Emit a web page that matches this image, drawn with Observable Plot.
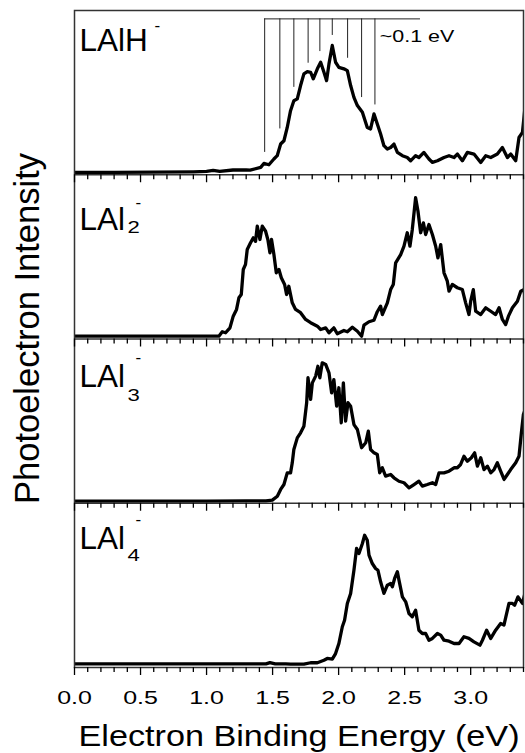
<!DOCTYPE html>
<html><head><meta charset="utf-8">
<script src="https://cdn.jsdelivr.net/npm/d3@7"></script>
<script src="https://cdn.jsdelivr.net/npm/@observablehq/plot@0.6"></script>
<style>html,body{margin:0;padding:0;background:#fff;} #chart svg{display:block}</style>
</head><body><div id="chart"></div>
<script>
// ---- data: [binding energy (eV), relative intensity within panel] ----
const LAlH = [[0.00,0.015],[0.30,0.015],[0.60,0.016],[0.90,0.018],[1.00,0.020],[1.05,0.026],[1.10,0.020],[1.20,0.029],[1.30,0.029],[1.33,0.028],[1.41,0.045],[1.434,0.069],[1.472,0.061],[1.51,0.096],[1.535,0.116],[1.561,0.187],[1.586,0.207],[1.611,0.288],[1.636,0.39],[1.661,0.451],[1.687,0.462],[1.712,0.543],[1.737,0.614],[1.763,0.628],[1.788,0.624],[1.808,0.584],[1.839,0.645],[1.864,0.685],[1.889,0.624],[1.909,0.573],[1.927,0.675],[1.952,0.787],[1.977,0.685],[2.002,0.654],[2.04,0.645],[2.066,0.634],[2.091,0.543],[2.116,0.471],[2.142,0.421],[2.18,0.38],[2.217,0.288],[2.242,0.279],[2.268,0.37],[2.293,0.309],[2.318,0.248],[2.343,0.177],[2.369,0.157],[2.394,0.166],[2.419,0.187],[2.445,0.136],[2.483,0.116],[2.52,0.105],[2.545,0.085],[2.583,0.116],[2.608,0.105],[2.646,0.136],[2.684,0.096],[2.71,0.075],[2.748,0.085],[2.798,0.105],[2.836,0.116],[2.874,0.105],[2.899,0.126],[2.937,0.085],[2.975,0.136],[3.025,0.126],[3.076,0.075],[3.114,0.116],[3.152,0.105],[3.202,0.126],[3.24,0.166],[3.278,0.105],[3.303,0.126],[3.341,0.085],[3.366,0.227],[3.392,0.258],[3.41,0.40]];
const LAl2 = [[0,0.017],[1.093,0.017],[1.119,0.044],[1.144,0.038],[1.177,0.068],[1.202,0.139],[1.227,0.18],[1.245,0.251],[1.263,0.271],[1.278,0.423],[1.295,0.454],[1.308,0.545],[1.333,0.586],[1.354,0.616],[1.371,0.595],[1.384,0.687],[1.404,0.606],[1.422,0.687],[1.447,0.656],[1.464,0.606],[1.48,0.525],[1.492,0.606],[1.51,0.514],[1.528,0.403],[1.548,0.423],[1.566,0.373],[1.591,0.332],[1.606,0.271],[1.623,0.321],[1.649,0.22],[1.674,0.18],[1.712,0.16],[1.75,0.119],[1.788,0.099],[1.839,0.078],[1.864,0.058],[1.902,0.068],[1.927,0.038],[1.964,0.068],[1.99,0.032],[2.04,0.052],[2.066,0.044],[2.104,0.072],[2.142,0.047],[2.174,0.017],[2.192,0.084],[2.23,0.105],[2.267,0.114],[2.293,0.166],[2.318,0.2],[2.331,0.149],[2.369,0.22],[2.394,0.301],[2.414,0.332],[2.432,0.464],[2.47,0.514],[2.495,0.565],[2.52,0.647],[2.54,0.565],[2.558,0.667],[2.583,0.86],[2.601,0.778],[2.621,0.647],[2.642,0.707],[2.659,0.636],[2.684,0.697],[2.71,0.636],[2.735,0.565],[2.752,0.494],[2.773,0.575],[2.798,0.403],[2.823,0.352],[2.836,0.291],[2.861,0.332],[2.899,0.312],[2.937,0.301],[2.962,0.22],[2.987,0.149],[3.0,0.23],[3.02,0.301],[3.038,0.169],[3.076,0.149],[3.114,0.19],[3.152,0.169],[3.189,0.149],[3.215,0.19],[3.24,0.119],[3.265,0.088],[3.286,0.139],[3.316,0.19],[3.354,0.23],[3.379,0.291],[3.404,0.301],[3.42,0.2]];
const LAl3 = [[0,0.013],[1.0,0.013],[1.3,0.014],[1.45,0.014],[1.498,0.019],[1.536,0.043],[1.561,0.084],[1.586,0.114],[1.611,0.185],[1.636,0.185],[1.649,0.246],[1.661,0.327],[1.687,0.398],[1.712,0.429],[1.737,0.469],[1.758,0.612],[1.768,0.764],[1.788,0.632],[1.801,0.733],[1.826,0.774],[1.843,0.834],[1.858,0.764],[1.876,0.855],[1.902,0.845],[1.927,0.794],[1.947,0.672],[1.964,0.753],[1.985,0.591],[2.002,0.703],[2.02,0.49],[2.036,0.733],[2.053,0.5],[2.071,0.612],[2.091,0.591],[2.116,0.479],[2.142,0.449],[2.174,0.338],[2.205,0.368],[2.225,0.439],[2.242,0.327],[2.268,0.307],[2.293,0.297],[2.311,0.185],[2.331,0.216],[2.356,0.165],[2.394,0.175],[2.419,0.155],[2.457,0.134],[2.495,0.125],[2.533,0.094],[2.571,0.114],[2.608,0.134],[2.634,0.104],[2.672,0.114],[2.71,0.125],[2.735,0.114],[2.76,0.185],[2.798,0.185],[2.836,0.195],[2.874,0.216],[2.899,0.216],[2.924,0.236],[2.949,0.286],[2.975,0.256],[3.005,0.277],[3.03,0.307],[3.051,0.226],[3.076,0.277],[3.101,0.205],[3.127,0.226],[3.152,0.185],[3.177,0.205],[3.202,0.246],[3.227,0.195],[3.253,0.145],[3.278,0.175],[3.303,0.205],[3.341,0.246],[3.366,0.286],[3.384,0.429],[3.399,0.54],[3.417,0.581]];
const LAl4 = [[0,0.022],[1.0,0.022],[1.45,0.022],[1.48,0.03],[1.52,0.022],[1.6,0.022],[1.636,0.02],[1.737,0.02],[1.788,0.029],[1.839,0.029],[1.889,0.044],[1.914,0.055],[1.952,0.051],[1.977,0.085],[2.002,0.146],[2.028,0.248],[2.045,0.288],[2.066,0.39],[2.091,0.451],[2.116,0.592],[2.136,0.725],[2.154,0.694],[2.18,0.755],[2.197,0.805],[2.217,0.775],[2.23,0.684],[2.255,0.633],[2.28,0.603],[2.298,0.592],[2.318,0.522],[2.343,0.451],[2.369,0.501],[2.394,0.511],[2.407,0.491],[2.424,0.542],[2.445,0.583],[2.457,0.532],[2.483,0.43],[2.508,0.4],[2.533,0.329],[2.558,0.309],[2.583,0.349],[2.608,0.227],[2.634,0.207],[2.659,0.207],[2.684,0.166],[2.71,0.177],[2.748,0.207],[2.773,0.197],[2.798,0.166],[2.836,0.16],[2.874,0.146],[2.912,0.146],[2.949,0.187],[2.987,0.177],[3.025,0.156],[3.07,0.136],[3.089,0.166],[3.121,0.227],[3.152,0.177],[3.189,0.227],[3.227,0.268],[3.252,0.258],[3.29,0.39],[3.316,0.39],[3.333,0.379],[3.358,0.43],[3.392,0.39],[3.417,0.471]];

// vibrational progression comb (LAlH- panel)
const combX = [1.44, 1.555, 1.661, 1.769, 1.858, 1.952, 2.068, 2.174, 2.275];
const combBottom = [0.136, 0.279, 0.532, 0.679, 0.75, 0.848, 0.709, 0.47, 0.425];
const combTop = 0.949;
const combBar = [1.44, 2.62];
const combLabel = "~0.1 eV";

// panel names (formula pieces)
const labelMain = ["LAlH", "LAl", "LAl", "LAl"];
const labelSub = ["", "2", "3", "4"];
const labelSup = ["-", "-", "-", "-"];
const tickLabels = [0.0, 0.5, 1.0, 1.5, 2.0, 2.5, 3.0];
const xTitle = "Electron Binding Energy (eV)";
const yTitle = "Photoelectron Intensity";

// ---- layout (positions only) ----
const spectra = [LAlH, LAl2, LAl3, LAl4];
const offsets = [3, 2, 1, 0];               // panel k occupies [offset, offset+1]
const mainY = [0.756, 0.661, 0.707, 0.723];
const subY = [0, 0.643, 0.624, 0.649];
const supY = [0.878, 0.795, 0.851, 0.867];
const supX = [0.606, 0.462, 0.462, 0.462];

const rows = spectra.flatMap((s, k) => s.map(([e, v]) => ({k, e, y: offsets[k] + v})));
const minor = d3.range(0, 35).map(i => i / 10).filter((_, i) => i % 5 !== 0);
const major = d3.range(0, 7).map(i => i / 2);
const minorRows = offsets.flatMap(b => minor.map(x => ({x, b})));
const majorRows = offsets.flatMap(b => major.map(x => ({x, b})));
const combRows = combX.map((x, i) => ({x, y1: 3 + combBottom[i], y2: 3 + combTop}));

const mains = labelMain.map((t, k) => ({t, x: 0.038, y: offsets[k] + mainY[k]}));
const subs = labelSub.map((t, k) => ({t, x: 0.402, y: offsets[k] + subY[k]})).filter(d => d.t);
const sups = labelSup.map((t, k) => ({t, x: supX[k], y: offsets[k] + supY[k]}));

const chart = Plot.plot({
  width: 525, height: 753,
  marginLeft: 74, marginRight: 2, marginTop: 10, marginBottom: 86,
  style: {fontFamily: "'Liberation Sans', Arial, sans-serif", background: "white", color: "black"},
  x: {domain: [0, 3.4], axis: null},
  y: {domain: [0, 4], axis: null},
  marks: [
    Plot.ruleX(combRows, {x: "x", y1: "y1", y2: "y2", stroke: "#222", strokeWidth: 1}),
    Plot.ruleY([3 + combTop], {y: d => d, x1: combBar[0], x2: combBar[1], stroke: "#222", strokeWidth: 1}),
    Plot.text([combLabel], {x: 2.312, y: 3.807, text: d => d, textAnchor: "start", lineAnchor: "bottom", fontSize: 16.5, fill: "black"}),
    Plot.line(rows, {x: "e", y: "y", z: "k", stroke: "black", strokeWidth: 3.3, strokeLinejoin: "round", strokeLinecap: "round", clip: true}),
    Plot.ruleY([1, 2, 3], {stroke: "#333", strokeWidth: 1.5}),
    Plot.frame({stroke: "#333", strokeWidth: 1.5}),
    Plot.ruleX(minorRows, {x: "x", y1: "b", y2: "b", insetBottom: -5, stroke: "black", strokeWidth: 1.3}),
    Plot.ruleX(majorRows, {x: "x", y1: "b", y2: "b", insetBottom: -8, stroke: "black", strokeWidth: 1.3}),
    Plot.text(tickLabels, {x: d => d, y: 0, text: d => d3.format(".1f")(d), dy: 36.3, lineAnchor: "bottom", fontSize: 18.5, fill: "black"}),
    Plot.text([xTitle], {x: 1.7, y: 0, text: d => d, dy: 78, lineAnchor: "bottom", fontSize: 29, fill: "black"}),
    Plot.text([yTitle], {x: 0, y: 2, text: d => d, dx: -36, dy: -10.5, rotate: -90, textAnchor: "middle", lineAnchor: "bottom", fontSize: 34.5, fill: "black"}),
    Plot.text(mains, {x: "x", y: "y", text: "t", textAnchor: "start", lineAnchor: "bottom", fontSize: 31.5, fill: "black"}),
    Plot.text(subs, {x: "x", y: "y", text: "t", textAnchor: "start", lineAnchor: "bottom", fontSize: 17, fill: "black"}),
    Plot.text(sups, {x: "x", y: "y", text: "t", textAnchor: "start", lineAnchor: "bottom", fontSize: 17, fill: "black"})
  ]
});

// horizontal stretch of the original's lettering
chart.querySelectorAll("text").forEach(t => {
  const s = t.textContent;
  let k = 1;
  if (/^\d\.\d$/.test(s)) k = 1.35;
  else if (/^\d$/.test(s)) k = 1.3;
  else if (s === xTitle) k = 1.18;
  else if (s === combLabel) k = 1.3;
  if (k !== 1) {
    const tr = t.getAttribute("transform") || "";
    t.setAttribute("transform", tr + ` scale(${k},1)`);
  }
});
document.getElementById("chart").appendChild(chart);
</script>
</body></html>
